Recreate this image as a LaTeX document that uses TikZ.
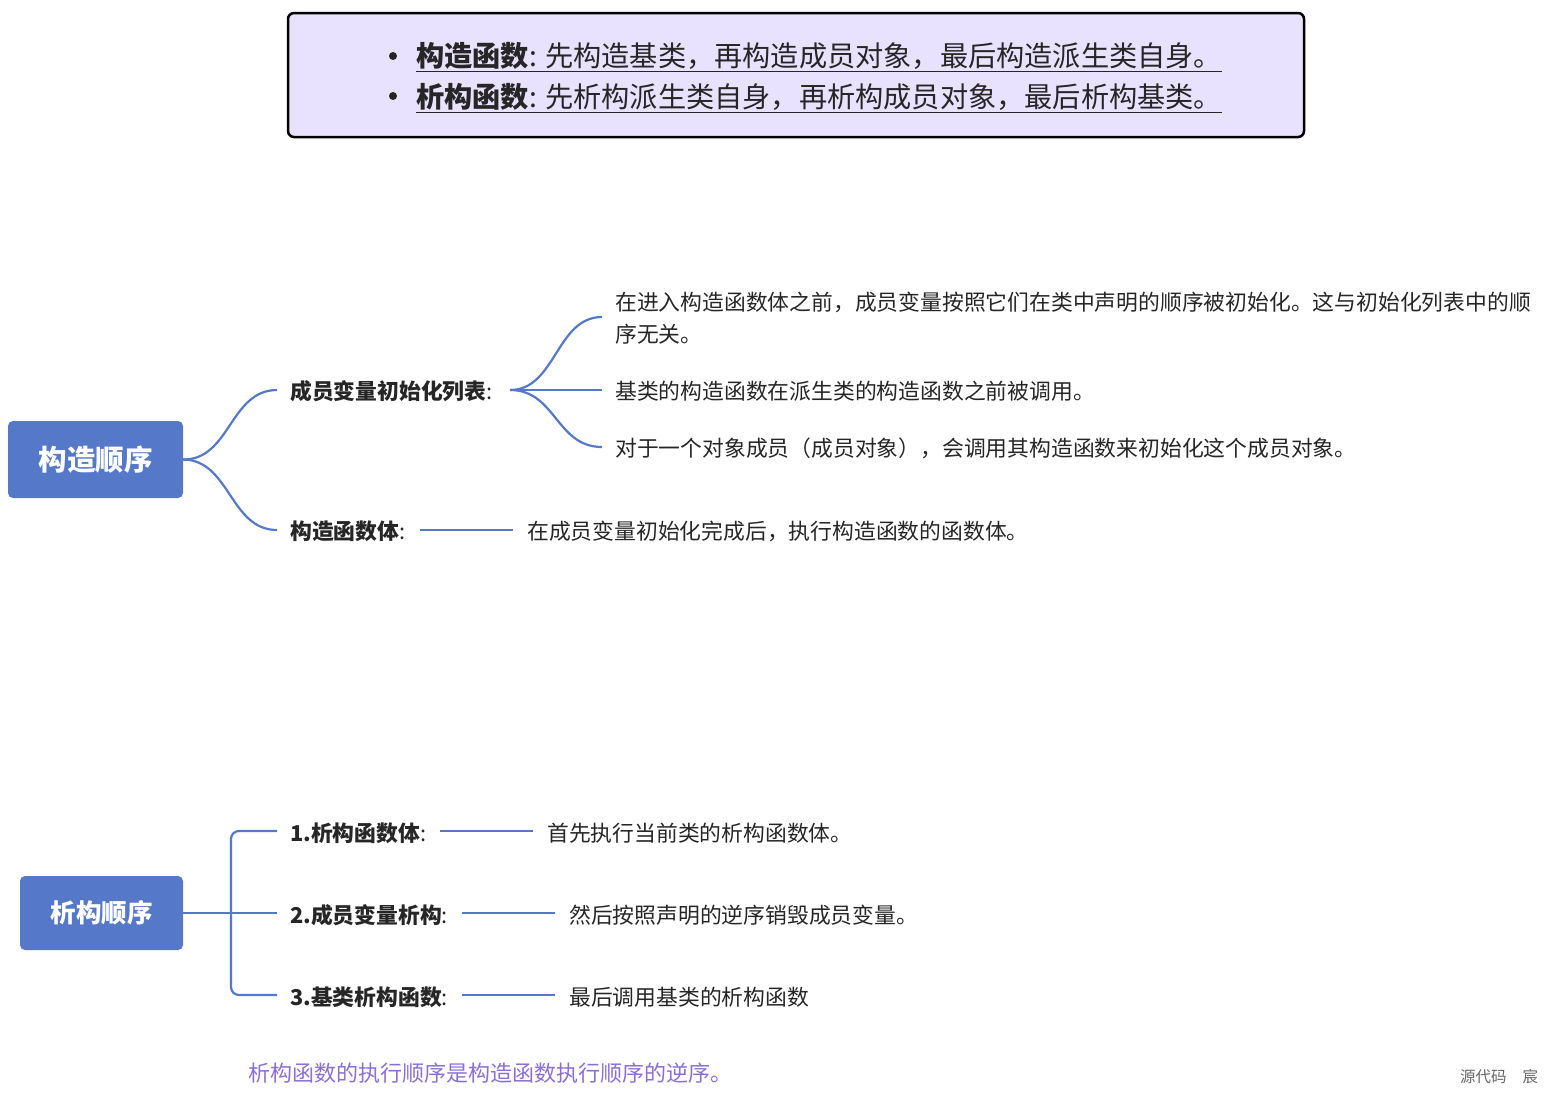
\documentclass[tikz,border=0pt]{standalone}
\usepackage{fontspec}
\setmainfont{Noto Sans CJK SC}
\begin{document}
\begin{tikzpicture}[x=1pt,y=-1pt,
  conn/.style={draw=bl,line width=2.2pt},
  lab/.style={anchor=west,font=\fontsize{21.8}{24}\selectfont,inner sep=0pt,text=black!85},
  txt/.style={anchor=west,font=\fontsize{21.8}{24}\selectfont,inner sep=0pt,text=black!85},
  dot/.style={circle,fill=black!85,inner sep=0pt,minimum size=8pt},
  root/.style={fill=bl,rounded corners=5pt,text=white,font=\fontsize{28.5}{30}\selectfont\bfseries}]
\definecolor{bl}{HTML}{5578C9}
\useasboundingbox (0,0) rectangle (1552,1096);
\node[draw=black,line width=2.5pt,fill={rgb,255:red,233;green,226;blue,254},rounded corners=6pt,minimum width=1016pt,minimum height=124pt] (top) at (796,75) {};
\node[dot] (b1) at (393,56) {};
\node[dot] (b2) at (393,96) {};
\node[txt,font=\fontsize{28.2}{30}\selectfont] (t1) at (416,57) {\underline{\textbf{构造函数}: 先构造基类，再构造成员对象，最后构造派生类自身。}};
\node[txt,font=\fontsize{28.2}{30}\selectfont] (t2) at (416,98) {\underline{\textbf{析构函数}: 先析构派生类自身，再析构成员对象，最后析构基类。}};
% construction
\node[root,minimum width=175pt,minimum height=77pt] (c) at (95.5,459.5) {构造顺序};
\node[lab] (c1) at (290,391) {\textbf{成员变量初始化列表}:};
\node[lab] (c2) at (290,531) {\textbf{构造函数体}:};
\coordinate (c1in) at (277,390); \coordinate (c2in) at (277,530);
\draw[conn] (c.east) .. controls (230,460) and (230,390) .. (c1in);
\draw[conn] (c.east) .. controls (230,460) and (230,530) .. (c2in);
\coordinate (c1o) at (510,390);
\coordinate (a1) at (602,317); \coordinate (a2) at (602,390); \coordinate (a3) at (602,447);
\draw[conn] (c1o) .. controls (556,390) and (556,317) .. (a1);
\draw[conn] (c1o) -- (a2);
\draw[conn] (c1o) .. controls (556,390) and (556,447) .. (a3);
\node[txt,align=left,anchor=north west,font=\fontsize{21.8}{32}\selectfont] (d1) at (615,292) {在进入构造函数体之前，成员变量按照它们在类中声明的顺序被初始化。这与初始化列表中的顺\\序无关。};
\node[txt] (d2) at (615,391) {基类的构造函数在派生类的构造函数之前被调用。};
\node[txt] (d3) at (615,448) {对于一个对象成员（成员对象），会调用其构造函数来初始化这个成员对象。};
\node[txt] (d4) at (527,531) {在成员变量初始化完成后，执行构造函数的函数体。};
\draw[conn] (420,530) -- (513,530);
% destruction
\node[root,minimum width=163pt,minimum height=74pt,font=\fontsize{25.5}{28}\selectfont\bfseries] (d) at (101.5,913) {析构顺序};
\node[lab] (e1) at (290,833) {\textbf{1.析构函数体}:};
\node[lab] (e2) at (290,915) {\textbf{2.成员变量析构}:};
\node[lab] (e3) at (290,997) {\textbf{3.基类析构函数}:};
\draw[conn] (d.east) -- (277,913);
\draw[conn,rounded corners=8pt] (277,831) -- (231,831) -- (231,995) -- (277,995);
\draw[conn] (440,831) -- (533,831);
\draw[conn] (462,913) -- (555,913);
\draw[conn] (462,995) -- (555,995);
\node[txt] (f1) at (547,833) {首先执行当前类的析构函数体。};
\node[txt] (f2) at (569,915) {然后按照声明的逆序销毁成员变量。};
\node[txt] (f3) at (569,997) {最后调用基类的析构函数};
\node[txt,text={rgb,255:red,140;green,110;blue,215},font=\fontsize{22}{24}\selectfont] (note) at (248,1073) {析构函数的执行顺序是构造函数执行顺序的逆序。};
\node[txt,text=black!60,font=\fontsize{15.5}{17}\selectfont] (w) at (1460,1077) {源代码\hspace{16pt}宸};
\end{tikzpicture}
\end{document}
